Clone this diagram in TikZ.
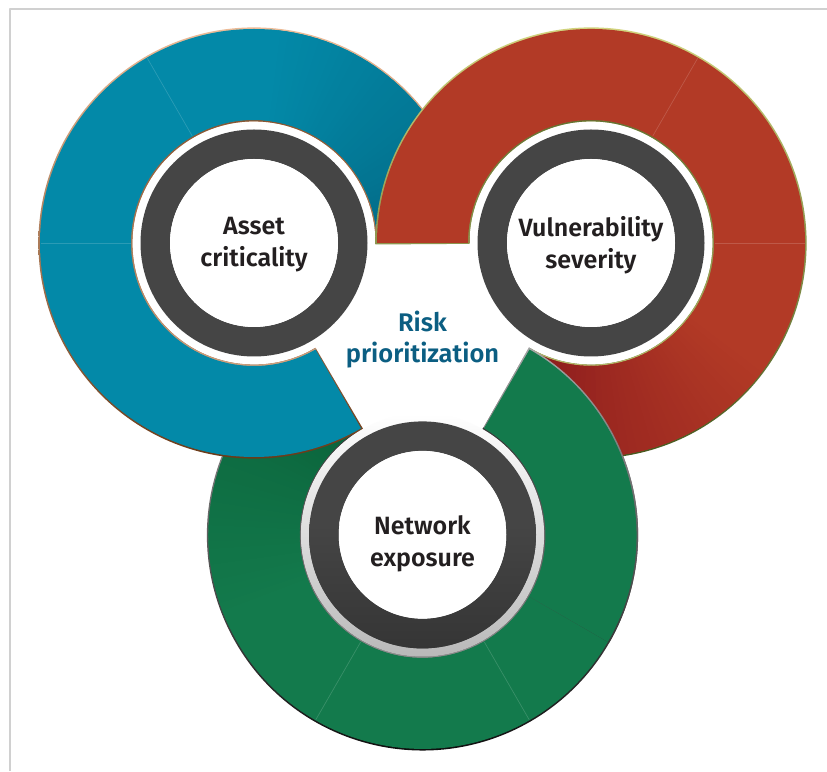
\documentclass[tikz,border=0pt]{standalone}
\usepackage{fontspec}
\setmainfont{Fira Sans}[BoldFont={Fira Sans SemiBold}]
\usetikzlibrary{calc}

\definecolor{blueA}{HTML}{0389A8}
\definecolor{blueD}{HTML}{036A86}
\definecolor{redA}{HTML}{B23A26}
\definecolor{redD}{HTML}{8A1A1C}
\definecolor{greenA}{HTML}{137A4C}
\definecolor{greenD}{HTML}{0A623A}
\definecolor{blueTop}{HTML}{EDBC98}
\definecolor{blueBot}{HTML}{6A3A18}
\definecolor{redTop}{HTML}{D2D47E}
\definecolor{redBot}{HTML}{46571E}
\definecolor{greenTop}{HTML}{B0B0B0}
\definecolor{greenBot}{HTML}{0E0E0E}
\definecolor{coreGray}{HTML}{454545}
\definecolor{coreShade}{HTML}{353535}
\definecolor{labelInk}{HTML}{231F20}
\definecolor{riskInk}{HTML}{0B5E82}
\definecolor{frameGray}{HTML}{D0D0D0}

% thin bevelled rim under a ring segment (outer rim top->bottom, inner rim reversed)
\newcommand\ringborder[5]{%
  \begin{scope}
    \clip (#1) ++(#2:215.6) arc[start angle=#2, end angle=#3, radius=215.6]
      -- ($(#1)+(#3:121.6)$) arc[start angle=#3, end angle=#2, radius=121.6] -- cycle;
    \shade[top color=#4, bottom color=#5] ($(#1)+(-218,-218)$) rectangle ($(#1)+(218,218)$);
    \clip (#1) circle[radius=123.3];
    \shade[top color=#5, bottom color=#4] ($(#1)+(-218,-218)$) rectangle ($(#1)+(218,218)$);
  \end{scope}}

% flat coloured ring segment
\newcommand\ringfill[4]{%
  \fill[#4] (#1) ++(#2:214) arc[start angle=#2, end angle=#3, radius=214]
    -- ($(#1)+(#3:123)$) arc[start angle=#3, end angle=#2, radius=123] -- cycle;}

% angular darkening: from dark at the start angle to the base colour after the sweep
\newcommand\ringgrad[5]{%
  \foreach \k in {0,...,39}{%
    \pgfmathsetmacro\ga{#2+#3*\k/40}%
    \pgfmathsetmacro\gb{#2+#3*(\k+1.4)/40}%
    \pgfmathtruncatemacro\gp{100-100*\k/39}%
    \fill[#4!\gp!#5] (#1) ++(\ga:214) arc[start angle=\ga, end angle=\gb, radius=214]
      -- ($(#1)+(\gb:123)$) arc[start angle=\gb, end angle=\ga, radius=123] -- cycle;
  }}

% faint segment joint
\newcommand\seam[2]{%
  \draw[white, opacity=0.16, line width=0.7pt] ($(#1)+(#2:123.5)$) -- ($(#1)+(#2:213.5)$);}

% dark inner ring with white centre
\newcommand\core[1]{%
  \fill[coreGray, even odd rule] (#1) circle[radius=113.5] (#1) circle[radius=84];
  \fill[white] (#1) circle[radius=84];}

\tikzset{
  ringlabel/.style={align=center, text=labelInk, inner sep=0pt,
    font=\bfseries\fontsize{25}{32}\selectfont},
  risklabel/.style={align=center, text=riskInk, inner sep=0pt,
    font=\bfseries\fontsize{25.5}{31}\selectfont}
}

\begin{document}
\begin{tikzpicture}[x=1pt, y=1pt, line join=round]
  \useasboundingbox (0,0) rectangle (827,771);
  \fill[white] (0,0) rectangle (827,771);
  \draw[frameGray, line width=2pt] (10,0) -- (10,762) -- (827,762);

  \coordinate (B) at (254,528);
  \coordinate (R) at (591,528);
  \coordinate (G) at (422.5,236.1);

  % network exposure ring (lowest layer)
  \ringborder{G}{120}{420.4}{greenTop}{greenBot}
  \ringfill{G}{120}{420}{greenA}
  \ringgrad{G}{120}{85}{greenD}{greenA}
  \seam{G}{240}
  \seam{G}{300}

  % asset criticality ring
  \ringborder{B}{0}{300.4}{blueTop}{blueBot}
  \ringfill{B}{0}{300}{blueA}
  \ringgrad{B}{0}{85}{blueD}{blueA}
  \seam{B}{120}
  \seam{B}{180}

  % vulnerability severity ring
  \ringborder{R}{-120}{180.4}{redTop}{redBot}
  \ringfill{R}{-120}{180}{redA}
  \ringgrad{R}{-120}{85}{redD}{redA}
  \seam{R}{0}
  \seam{R}{60}

  % end of the network ring lies on top of the vulnerability ring
  \ringborder{G}{-30}{60.4}{greenTop}{greenBot}
  \ringfill{G}{-30}{60}{greenA}

  % inner discs
  \shade[top color=white, middle color=white, bottom color=gray!55] (G) circle[radius=121.6];
  \core{B}
  \core{R}
  \core{G}
  % soft shadow on the lower half of the bottom dark ring
  \begin{scope}[even odd rule]
    \clip (G) circle[radius=113.5] (G) circle[radius=84];
    \shade[top color=coreGray, bottom color=coreShade] ($(G)+(-115,-115)$) rectangle ($(G)+(115,10)$);
  \end{scope}

  \node[ringlabel] (asset) at (254,526) {Asset\\criticality};
  \node[ringlabel] (vuln) at (591,526) {Vulnerability\\severity};
  \node[ringlabel] (net) at (422.5,227) {Network\\exposure};
  \node[risklabel] (risk) at (422.5,431) {Risk\\prioritization};
\end{tikzpicture}
\end{document}
